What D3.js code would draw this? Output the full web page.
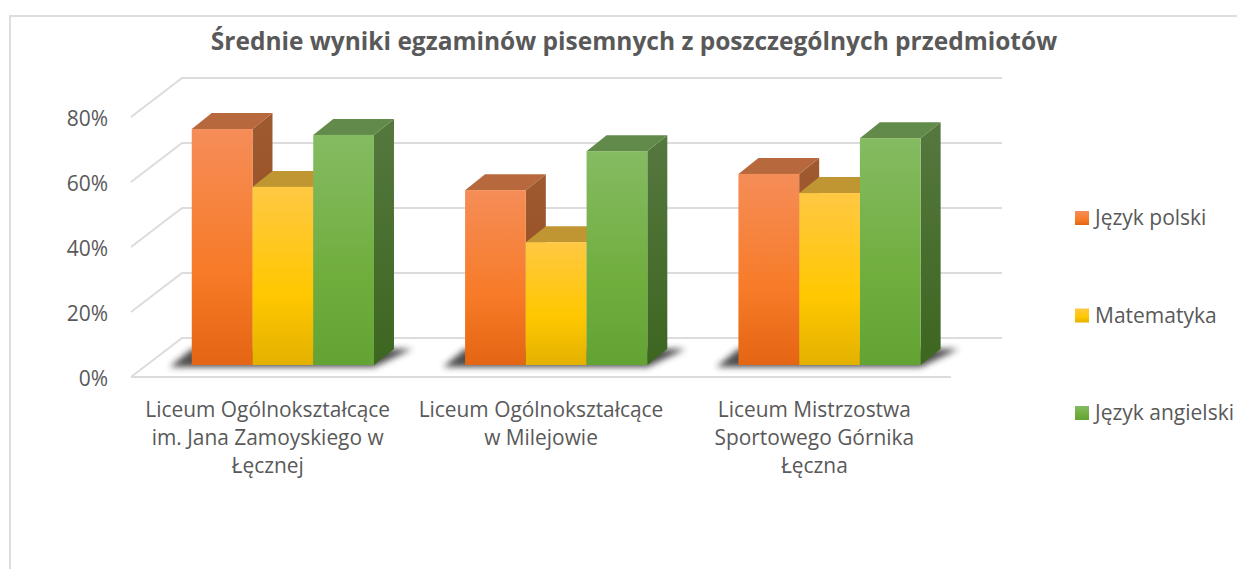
<!DOCTYPE html>
<html>
<head>
<meta charset="utf-8">
<script src="https://cdn.jsdelivr.net/npm/d3@7"></script>
<style>
  html, body { margin: 0; padding: 0; background: #fff; overflow: hidden; }
  text { font-family: "Open Sans", sans-serif; fill: #595959; }
</style>
</head>
<body>
<div id="chart"></div>
<script>
var title = "Średnie wyniki egzaminów pisemnych z poszczególnych przedmiotów";
var schools = [
    ["Liceum Ogólnokształcące", "im. Jana Zamoyskiego w", "Łęcznej"],
    ["Liceum Ogólnokształcące", "w Milejowie"],
    ["Liceum Mistrzostwa", "Sportowego Górnika", "Łęczna"]
];
var subjects = ["Język polski", "Matematyka", "Język angielski"];
var polski = [72.6, 53.8, 58.8];
var matematyka = [54.8, 37.8, 52.9];
var angielski = [70.8, 65.8, 69.8];
var ticks = [0, 20, 40, 60, 80];

// light, mid, dark stops of the front face, then the top and side colours
var faces = [
    {stops: ["#f58d58", "#f77b28", "#e46513"], top: "#b8683d", side: ["#a05a30", "#8f4a1e"]},
    {stops: ["#ffc843", "#ffc800", "#e3b100"], top: "#bf9632", side: ["#bf9632", "#bf9632"]},
    {stops: ["#85bb62", "#70ae3e", "#62a334"], top: "#628a4b", side: ["#55783f", "#3d6620"]}
];

var width = 1237, height = 569;
var values = [polski, matematyka, angielski];

var svg = d3.select("#chart").append("svg")
    .attr("width", width)
    .attr("height", height);

var defs = svg.append("defs");

faces.forEach(function(f, i) {
    var g = defs.append("linearGradient")
        .attr("id", "front" + i)
        .attr("x1", 0).attr("x2", 0).attr("y1", 0).attr("y2", 1);
    g.append("stop").attr("offset", "0%").attr("stop-color", f.stops[0]);
    g.append("stop").attr("offset", "60%").attr("stop-color", f.stops[1]);
    g.append("stop").attr("offset", "100%").attr("stop-color", f.stops[2]);

    var s = defs.append("linearGradient")
        .attr("id", "side" + i)
        .attr("x1", 0).attr("x2", 0).attr("y1", 0).attr("y2", 1);
    s.append("stop").attr("offset", "0%").attr("stop-color", f.side[0]);
    s.append("stop").attr("offset", "100%").attr("stop-color", f.side[1]);
});

defs.append("filter").attr("id", "blur")
    .attr("x", "-20%").attr("y", "-50%").attr("width", "140%").attr("height", "200%")
    .append("feGaussianBlur").attr("stdDeviation", 3.2);

// frame of the chart area, only left and top are visible
svg.append("path")
    .attr("d", "M10,569V16H1237")
    .attr("fill", "none")
    .attr("stroke", "#dedede")
    .attr("stroke-width", 2);

svg.append("text")
    .attr("x", 634)
    .attr("y", 50)
    .attr("text-anchor", "middle")
    .style("font-size", "24.5px")
    .style("font-weight", 700)
    .text(title);

// front plane of the floor, everything else is offset from it
var x0 = d3.scaleBand().domain(d3.range(schools.length)).range([131, 951])
    .paddingInner(1 / 3).paddingOuter(1 / 6);
var x1 = d3.scaleBand().domain(d3.range(subjects.length)).range([0, x0.bandwidth()]);
var y = d3.scaleLinear().domain([0, 80]).range([377, 117]);

var wall = {dx: 51, dy: -39};
var barFront = {dx: 15.2, dy: -12};
var barDepth = {dx: 20, dy: -16};

// grid on the back wall and side wall
var grid = svg.append("g")
    .attr("fill", "none")
    .attr("stroke", "#dcdcdc")
    .attr("stroke-width", 2);

ticks.forEach(function(t) {
    grid.append("path").attr("d", d3.line()([
        [x0.range()[0], y(t)],
        [x0.range()[0] + wall.dx, y(t) + wall.dy],
        [x0.range()[1] + wall.dx, y(t) + wall.dy]
    ]));
});
grid.append("line")
    .attr("x1", x0.range()[0]).attr("x2", x0.range()[1])
    .attr("y1", y(0)).attr("y2", y(0));

svg.selectAll(".tick-label").data(ticks).enter().append("text")
    .attr("class", "tick-label")
    .attr("x", 108)
    .attr("y", function(d) { return y(d) + 9; })
    .attr("text-anchor", "end")
    .style("font-size", "21px")
    .text(function(d) { return d + "%"; });

// floor shadow under each group
schools.forEach(function(s, i) {
    var left = x0(i) + barFront.dx;
    var right = left + x0.bandwidth();
    var base = y(0) + barFront.dy;
    svg.append("path")
        .attr("d", d3.line()([
            [left - 22, base + 2],
            [right, base + 2],
            [right + 38, base - 16],
            [left, base - 16]
        ]) + "Z")
        .attr("fill", "#2e2e2e")
        .attr("opacity", 0.85)
        .attr("filter", "url(#blur)");
});

var groups = svg.selectAll(".school").data(schools).enter().append("g")
    .attr("class", "school");

groups.each(function(s, i) {
    var g = d3.select(this);
    // draw left to right so later faces cover earlier sides
    subjects.forEach(function(name, j) {
        var xa = x0(i) + x1(j) + barFront.dx;
        var xb = xa + x1.bandwidth();
        var base = y(0) + barFront.dy;
        var top = y(values[j][i]) + barFront.dy;

        g.append("path")
            .attr("d", d3.line()([
                [xb, top], [xb + barDepth.dx, top + barDepth.dy],
                [xb + barDepth.dx, base + barDepth.dy], [xb, base]
            ]) + "Z")
            .attr("fill", "url(#side" + j + ")");
        g.append("path")
            .attr("d", d3.line()([
                [xa, top], [xa + barDepth.dx, top + barDepth.dy],
                [xb + barDepth.dx, top + barDepth.dy], [xb, top]
            ]) + "Z")
            .attr("fill", faces[j].top);
        g.append("rect")
            .attr("x", xa)
            .attr("y", top)
            .attr("width", x1.bandwidth())
            .attr("height", base - top)
            .attr("fill", "url(#front" + j + ")");
    });

    // category label, one line per row
    var label = svg.append("text")
        .attr("text-anchor", "middle")
        .style("font-size", "20.9px");
    s.forEach(function(line, k) {
        label.append("tspan")
            .attr("x", x0(i) + x0.bandwidth() / 2)
            .attr("y", 417 + k * 28)
            .text(line);
    });
});

// legend
var legendY = d3.scalePoint().domain(subjects).range([218, 413]);
var legend = svg.selectAll(".legend").data(subjects).enter().append("g")
    .attr("class", "legend")
    .attr("transform", function(d) { return "translate(1075," + legendY(d) + ")"; });

legend.append("rect")
    .attr("y", -7)
    .attr("width", 14)
    .attr("height", 14)
    .attr("fill", function(d, i) { return "url(#front" + i + ")"; });

legend.append("text")
    .attr("x", 20)
    .attr("y", 7)
    .style("font-size", "21px")
    .text(function(d) { return d; });
</script>
</body>
</html>
